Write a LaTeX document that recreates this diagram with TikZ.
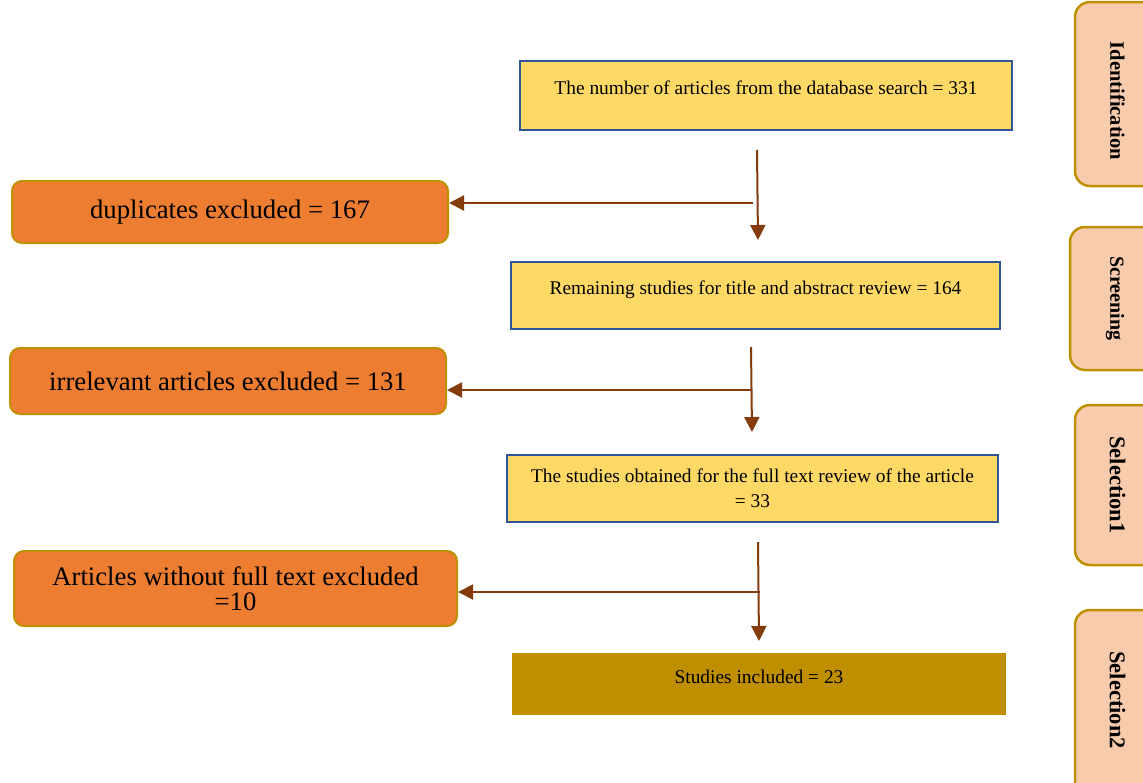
\documentclass[tikz,border=0pt]{standalone}
\usepackage{fontspec}
\setmainfont{Liberation Serif}
\usetikzlibrary{arrows.meta,positioning}
\definecolor{stageyellow}{HTML}{FFD966}
\definecolor{stageblue}{HTML}{2F5597}
\definecolor{exclorange}{HTML}{ED7D31}
\definecolor{rimgold}{HTML}{BF9000}
\definecolor{inclgold}{HTML}{BF8F00}
\definecolor{tabpeach}{HTML}{F8CBAD}
\definecolor{flowbrown}{HTML}{843C0C}

\tikzset{
  stagebox/.style={fill=stageyellow, draw=stageblue, line width=2.5pt, align=center,
    inner sep=0pt, font=\fontsize{19.4}{25}\selectfont},
  lifted/.style={text height=13.5pt, text depth=15pt},
  exclbox/.style={fill=exclorange, draw=rimgold, line width=2pt, rounded corners=10pt,
    align=center, inner sep=0pt, font=\fontsize{26.7}{25}\selectfont},
  inclbox/.style={fill=inclgold, align=center, inner sep=0pt,
    font=\fontsize{19.4}{25}\selectfont},
  phasetab/.style={fill=tabpeach, draw=rimgold, line width=2.5pt, rounded corners=15pt,
    rotate=-90, inner sep=0pt, minimum height=85pt, font=\bfseries},
  flow/.style={draw=flowbrown, line width=2pt, -{Triangle[length=15pt,width=15pt]}}
}

\begin{document}
\begin{tikzpicture}[x=1pt, y=-1pt]
\clip (0,0) rectangle (1143,782);
\fill[white] (0,0) rectangle (1143,782);

\node[stagebox, lifted, minimum width=492pt, minimum height=69pt] (search) at (766,95.5)
  {The number of articles from the database search = 331};
\node[stagebox, lifted, minimum width=489pt, minimum height=67pt] (screen) at (755.5,295.5)
  {Remaining studies for title and abstract review = 164};
\node[stagebox, minimum width=491pt, minimum height=67pt] (fulltext) at (752.5,488.5)
  {The studies obtained for the full text review of the article\\= 33};
\node[inclbox, lifted, minimum width=494pt, minimum height=62pt] (included) at (759,684)
  {Studies included = 23};

\node[exclbox, minimum width=436pt, minimum height=62pt] (dup) at (230,212)
  {duplicates excluded = 167};
\node[exclbox, minimum width=436pt, minimum height=66pt] (irrel) at (228,381)
  {irrelevant articles excluded = 131};
\node[exclbox, minimum width=443pt, minimum height=75pt] (nofull) at (235.5,588.5)
  {Articles without full text excluded\\=10};

\node[phasetab, minimum width=184pt, font=\bfseries\fontsize{20.5}{22}\selectfont] (identtab) at (1117.5,94) {\kern14pt Identification};
\node[phasetab, minimum width=143pt, minimum height=90pt, font=\bfseries\fontsize{20}{22}\selectfont] (screentab) at (1115,298.5) {Screening};
\node[phasetab, minimum width=160pt, font=\bfseries\fontsize{22.5}{24}\selectfont] (sel1tab) at (1117.5,485) {Selection1};
\node[phasetab, minimum width=190pt, font=\bfseries\fontsize{22.5}{24}\selectfont] (sel2tab) at (1117.5,705) {Selection2\kern10pt};

\coordinate (down1) at (757,150);
\coordinate (stop1) at (758,240);
\coordinate (turn1) at (753,203);
\coordinate (down2) at (751,347);
\coordinate (stop2) at (752,432);
\coordinate (turn2) at (751,390);
\coordinate (down3) at (758,542);
\coordinate (stop3) at (759,641);
\coordinate (turn3) at (760,592);

\draw[flow] (down1) -- (stop1);
\draw[flow] (turn1) -- (dup.east |- turn1);
\draw[flow] (down2) -- (stop2);
\draw[flow] (turn2) -- (irrel.east |- turn2);
\draw[flow] (down3) -- (stop3);
\draw[flow] (turn3) -- (nofull.east |- turn3);
\end{tikzpicture}
\end{document}
